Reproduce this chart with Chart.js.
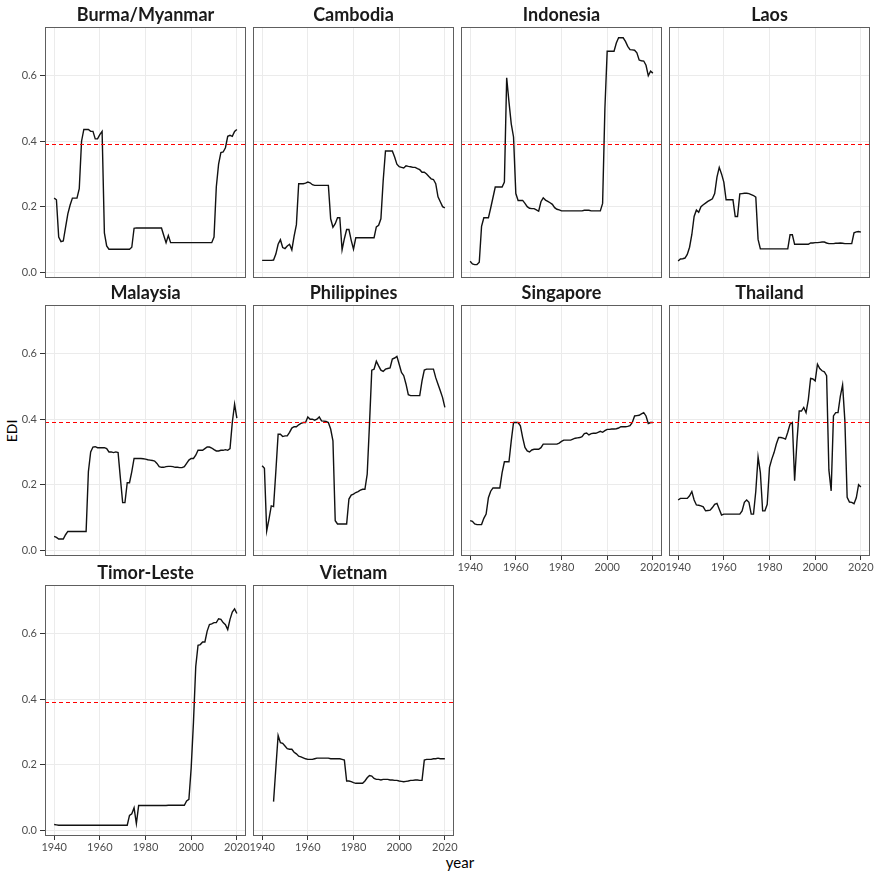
<!DOCTYPE html>
<html>
<head>
<meta charset="utf-8">
<script src="https://cdn.jsdelivr.net/npm/chart.js@4/dist/chart.umd.min.js"></script>
<style>
html,body{margin:0;padding:0;background:#fff;width:876px;height:873px;overflow:hidden;}
#wrap{position:relative;width:876px;height:873px;}
canvas{position:absolute;}
.lab{position:absolute;font-family:Lato,"Noto Sans",sans-serif;color:#000;line-height:1;white-space:nowrap;}
</style>
</head>
<body>
<div id="wrap">
  <div class="lab" style="left:12px;top:431px;font-size:14px;transform:translate(-50%,-50%) rotate(-90deg);">EDI</div>
  <div class="lab" style="left:460px;top:862px;font-size:15px;transform:translate(-50%,-50%);">year</div>
</div>
<script>
// ---------------- data ----------------
const years = [
 1940,1941,1942,1943,1944,1945,1946,1947,1948,1949,
 1950,1951,1952,1953,1954,1955,1956,1957,1958,1959,
 1960,1961,1962,1963,1964,1965,1966,1967,1968,1969,
 1970,1971,1972,1973,1974,1975,1976,1977,1978,1979,
 1980,1981,1982,1983,1984,1985,1986,1987,1988,1989,
 1990,1991,1992,1993,1994,1995,1996,1997,1998,1999,
 2000,2001,2002,2003,2004,2005,2006,2007,2008,2009,
 2010,2011,2012,2013,2014,2015,2016,2017,2018,2019,
 2020];

const countries = ['Burma/Myanmar','Cambodia','Indonesia','Laos','Malaysia','Philippines','Singapore','Thailand','Timor-Leste','Vietnam'];

const ediBurma = [
 0.226,0.221,0.107,0.093,0.095,0.137,0.178,0.205,0.226,0.226,
 0.226,0.255,0.400,0.436,0.436,0.436,0.430,0.430,0.407,0.407,
 0.420,0.430,0.120,0.080,0.070,0.070,0.070,0.070,0.070,0.070,
 0.070,0.070,0.070,0.070,0.076,0.134,0.135,0.135,0.135,0.135,
 0.135,0.135,0.135,0.135,0.135,0.135,0.135,0.135,0.112,0.090,
 0.112,0.090,0.090,0.090,0.090,0.090,0.090,0.090,0.090,0.090,
 0.090,0.090,0.090,0.090,0.090,0.090,0.090,0.090,0.090,0.090,
 0.107,0.260,0.330,0.365,0.367,0.380,0.415,0.418,0.415,0.430,
 0.436];

const ediCambodia = [
 0.036,0.036,0.036,0.036,0.036,0.037,0.055,0.085,0.099,0.075,
 0.072,0.080,0.085,0.068,0.110,0.145,0.270,0.270,0.270,0.272,
 0.275,0.273,0.267,0.265,0.265,0.265,0.265,0.265,0.265,0.265,
 0.163,0.137,0.148,0.166,0.166,0.068,0.102,0.130,0.130,0.097,
 0.070,0.105,0.105,0.105,0.105,0.105,0.105,0.105,0.105,0.105,
 0.138,0.143,0.163,0.280,0.370,0.370,0.370,0.370,0.352,0.330,
 0.322,0.320,0.318,0.325,0.323,0.322,0.320,0.320,0.316,0.313,
 0.305,0.305,0.300,0.292,0.285,0.283,0.270,0.230,0.215,0.200,
 0.196];

const ediIndonesia = [
 0.033,0.025,0.023,0.023,0.030,0.140,0.166,0.166,0.166,0.196,
 0.228,0.260,0.260,0.260,0.260,0.275,0.594,0.520,0.453,0.413,
 0.240,0.219,0.219,0.219,0.210,0.200,0.195,0.194,0.194,0.190,
 0.186,0.215,0.227,0.220,0.216,0.212,0.207,0.197,0.192,0.190,
 0.187,0.187,0.187,0.187,0.187,0.187,0.187,0.187,0.187,0.187,
 0.189,0.189,0.189,0.187,0.187,0.187,0.187,0.187,0.210,0.500,
 0.675,0.675,0.675,0.675,0.700,0.716,0.716,0.716,0.705,0.690,
 0.680,0.679,0.678,0.670,0.648,0.646,0.645,0.632,0.600,0.614,
 0.608];

const ediLaos = [
 0.034,0.040,0.041,0.043,0.054,0.076,0.115,0.170,0.190,0.183,
 0.200,0.206,0.211,0.216,0.220,0.224,0.240,0.290,0.320,0.300,
 0.275,0.221,0.221,0.221,0.221,0.170,0.170,0.239,0.240,0.241,
 0.241,0.240,0.237,0.234,0.229,0.100,0.071,0.071,0.071,0.071,
 0.071,0.071,0.071,0.071,0.071,0.071,0.071,0.071,0.071,0.114,
 0.114,0.085,0.085,0.085,0.085,0.085,0.085,0.085,0.089,0.089,
 0.090,0.090,0.091,0.092,0.092,0.089,0.087,0.087,0.087,0.088,
 0.088,0.089,0.088,0.087,0.087,0.087,0.087,0.120,0.123,0.124,
 0.122];

const ediMalaysia = [
 0.042,0.039,0.034,0.034,0.034,0.047,0.057,0.057,0.057,0.057,
 0.057,0.057,0.057,0.057,0.057,0.240,0.300,0.315,0.316,0.313,
 0.313,0.313,0.313,0.310,0.300,0.300,0.298,0.300,0.298,0.220,
 0.145,0.145,0.206,0.206,0.240,0.280,0.280,0.280,0.280,0.279,
 0.278,0.276,0.275,0.274,0.272,0.265,0.255,0.253,0.253,0.255,
 0.256,0.256,0.255,0.253,0.253,0.252,0.252,0.255,0.265,0.275,
 0.280,0.280,0.290,0.305,0.305,0.305,0.310,0.315,0.315,0.312,
 0.307,0.303,0.303,0.305,0.305,0.307,0.305,0.310,0.390,0.446,
 0.403];

const ediPhilippines = [
 0.258,0.250,0.059,0.095,0.135,0.133,0.240,0.354,0.354,0.347,
 0.349,0.349,0.360,0.373,0.377,0.377,0.383,0.387,0.390,0.390,
 0.407,0.400,0.400,0.397,0.400,0.407,0.395,0.394,0.393,0.390,
 0.370,0.334,0.090,0.080,0.080,0.080,0.080,0.080,0.156,0.168,
 0.171,0.176,0.179,0.183,0.186,0.186,0.232,0.385,0.550,0.553,
 0.577,0.563,0.550,0.546,0.553,0.555,0.557,0.584,0.587,0.592,
 0.568,0.543,0.533,0.507,0.475,0.472,0.472,0.472,0.472,0.472,
 0.517,0.550,0.553,0.553,0.553,0.553,0.527,0.507,0.487,0.466,
 0.436];

const ediSingapore = [
 0.090,0.088,0.080,0.078,0.078,0.078,0.097,0.110,0.160,0.180,
 0.190,0.190,0.190,0.190,0.237,0.270,0.270,0.270,0.334,0.390,
 0.390,0.390,0.380,0.344,0.314,0.303,0.300,0.306,0.308,0.308,
 0.308,0.313,0.324,0.324,0.324,0.324,0.324,0.324,0.324,0.327,
 0.332,0.336,0.336,0.336,0.336,0.339,0.342,0.343,0.344,0.347,
 0.356,0.358,0.352,0.356,0.357,0.357,0.360,0.363,0.360,0.365,
 0.369,0.369,0.370,0.370,0.371,0.373,0.377,0.377,0.377,0.378,
 0.380,0.390,0.410,0.411,0.412,0.416,0.420,0.410,0.387,0.390,
 0.390];

const ediThailand = [
 0.153,0.158,0.158,0.158,0.158,0.166,0.179,0.153,0.138,0.137,
 0.135,0.132,0.120,0.121,0.122,0.130,0.140,0.143,0.125,0.107,
 0.110,0.110,0.110,0.110,0.110,0.110,0.110,0.110,0.120,0.146,
 0.153,0.146,0.110,0.110,0.180,0.285,0.237,0.120,0.120,0.140,
 0.253,0.278,0.298,0.324,0.344,0.344,0.342,0.339,0.360,0.385,
 0.390,0.212,0.330,0.425,0.425,0.436,0.420,0.460,0.525,0.523,
 0.517,0.568,0.555,0.548,0.545,0.533,0.245,0.181,0.410,0.420,
 0.420,0.470,0.505,0.395,0.161,0.147,0.146,0.142,0.160,0.200,
 0.193];

const ediTimorLeste = [
 0.017,0.016,0.015,0.015,0.015,0.015,0.015,0.015,0.015,0.015,
 0.015,0.015,0.015,0.015,0.015,0.015,0.015,0.015,0.015,0.015,
 0.015,0.015,0.015,0.015,0.015,0.015,0.015,0.015,0.015,0.015,
 0.015,0.015,0.015,0.045,0.050,0.068,0.020,0.075,0.075,0.075,
 0.075,0.075,0.075,0.075,0.075,0.075,0.075,0.075,0.075,0.075,
 0.076,0.076,0.076,0.076,0.076,0.076,0.076,0.076,0.089,0.094,
 0.190,0.330,0.500,0.565,0.567,0.575,0.575,0.608,0.628,0.630,
 0.634,0.634,0.646,0.644,0.634,0.628,0.613,0.644,0.666,0.676,
 0.662];

const ediVietnam = [
 null,null,null,null,null,0.087,0.190,0.289,0.267,0.265,
 0.257,0.249,0.247,0.247,0.238,0.233,0.226,0.224,0.221,0.218,
 0.216,0.216,0.216,0.218,0.220,0.220,0.220,0.220,0.220,0.220,
 0.218,0.218,0.218,0.218,0.218,0.216,0.214,0.150,0.150,0.148,
 0.145,0.143,0.143,0.143,0.143,0.150,0.160,0.167,0.165,0.158,
 0.155,0.155,0.153,0.155,0.155,0.155,0.153,0.153,0.152,0.152,
 0.150,0.149,0.148,0.149,0.150,0.152,0.152,0.153,0.153,0.152,
 0.152,0.214,0.216,0.216,0.216,0.218,0.218,0.220,0.218,0.218,
 0.218];

const xTicks = [1940, 1960, 1980, 2000, 2020];
const yTicks = [0.0, 0.2, 0.4, 0.6];
const threshold = 0.39;

// ---------------- layout / style ----------------
const seriesList = [ediBurma, ediCambodia, ediIndonesia, ediLaos, ediMalaysia,
                    ediPhilippines, ediSingapore, ediThailand, ediTimorLeste, ediVietnam];
const X_MIN = 1936, X_MAX = 2024, Y_MIN = -0.018, Y_MAX = 0.749;
const colLeft = [45, 253, 461, 669];
const rowTop = [27, 305, 585];
const PW = 201, PH = 251;
const LEFT = 45, TOP = 27, RIGHT = 8, BOTTOM = 28;
const FONT = 'Lato, "Noto Sans", sans-serif';

const framePlugin = {
  id: 'frameAndStrip',
  afterDraw(chart, args, opts) {
    const {ctx, chartArea: a} = chart;
    ctx.save();
    ctx.strokeStyle = '#5e5e5e';
    ctx.lineWidth = 1;
    ctx.strokeRect(Math.round(a.left) + 0.5, Math.round(a.top) + 0.5,
                   Math.round(a.right - a.left) - 1, Math.round(a.bottom - a.top) - 1);
    ctx.fillStyle = '#1a1a1a';
    ctx.font = 'bold 18px ' + FONT;
    ctx.textAlign = 'center';
    ctx.textBaseline = 'alphabetic';
    ctx.fillText(opts.title, (a.left + a.right) / 2, a.top - 6);
    ctx.restore();
  }
};

const wrap = document.getElementById('wrap');
countries.forEach((name, i) => {
  const col = i % 4, row = Math.floor(i / 4);
  const showY = col === 0;
  const showX = i >= 6;
  const cv = document.createElement('canvas');
  const w = LEFT + PW + RIGHT, h = TOP + PH + BOTTOM;
  cv.width = w; cv.height = h;
  cv.style.left = (colLeft[col] - LEFT) + 'px';
  cv.style.top = (rowTop[row] - TOP) + 'px';
  cv.style.width = w + 'px'; cv.style.height = h + 'px';
  wrap.appendChild(cv);
  const vals = seriesList[i];
  new Chart(cv, {
    type: 'line',
    data: {
      datasets: [
        {
          data: [{x: X_MIN, y: threshold}, {x: X_MAX, y: threshold}],
          borderColor: '#ff0000', borderWidth: 1.2, borderDash: [4, 3],
          pointRadius: 0, fill: false, order: 0
        },
        {
          data: years.map((yr, k) => ({x: yr, y: vals[k]})),
          borderColor: '#111111', borderWidth: 1.4, pointRadius: 0,
          tension: 0, fill: false, spanGaps: false, order: 1
        }
      ]
    },
    options: {
      responsive: false, animation: false, devicePixelRatio: 1,
      layout: {padding: {top: TOP, right: RIGHT, left: 0, bottom: 0}},
      plugins: {legend: {display: false}, tooltip: {enabled: false}, title: {display: false},
                frameAndStrip: {title: name}},
      events: [],
      scales: {
        x: {
          type: 'linear', min: X_MIN, max: X_MAX,
          afterBuildTicks: s => { s.ticks = xTicks.map(v => ({value: v})); },
          afterFit: s => { s.height = BOTTOM; s.paddingLeft = 0; s.paddingRight = 0; },
          border: {display: false},
          grid: {color: '#ebebeb', lineWidth: 1, drawTicks: showX, tickLength: 4, tickColor: '#333333'},
          ticks: {display: showX, padding: 1, color: '#4d4d4d', font: {family: FONT, size: 11},
                  maxRotation: 0, minRotation: 0, autoSkip: false,
                  callback: v => String(v)}
        },
        y: {
          type: 'linear', min: Y_MIN, max: Y_MAX,
          afterBuildTicks: s => { s.ticks = yTicks.map(v => ({value: v})); },
          afterFit: s => { s.width = LEFT; s.paddingTop = 0; s.paddingBottom = 0; },
          border: {display: false},
          grid: {color: '#ebebeb', lineWidth: 1, drawTicks: showY, tickLength: 5, tickColor: '#333333'},
          ticks: {display: showY, padding: 3, color: '#4d4d4d', font: {family: FONT, size: 11},
                  autoSkip: false, callback: v => Number(v).toFixed(1)}
        }
      }
    },
    plugins: [framePlugin]
  });
});
</script>
</body>
</html>
